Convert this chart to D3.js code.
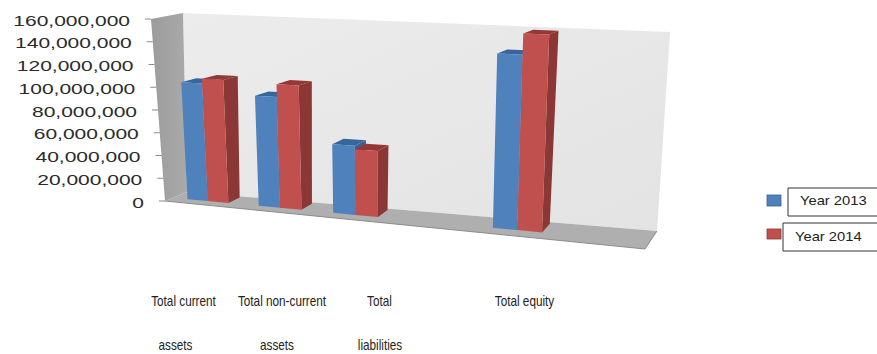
<!DOCTYPE html>
<html>
<head>
<meta charset="utf-8">
<title>Total assets, liabilities and equity</title>
<script src="https://cdn.jsdelivr.net/npm/d3@7/dist/d3.min.js"></script>
<style>
html, body { margin: 0; padding: 0; background: #fff; }
svg { display: block; }
text { font-family: "Liberation Sans", Arial, sans-serif; }
</style>
</head>
<body>
<svg id="chart" width="877" height="354"></svg>
<script>
// Balance sheet figures; the two empty slots leave gaps on the category axis.
const slots = ["Total current assets", "Total non-current assets", "Total liabilities", "gap-a", "Total equity", "gap-b"];
const seriesNames = ["Year 2013", "Year 2014"];
const year2013 = [103000000, 95000000, 58000000, null, 141000000, null];
const year2014 = [107000000, 106000000, 55000000, null, 158000000, null];
const tickValues = [0, 20000000, 40000000, 60000000, 80000000, 100000000, 120000000, 140000000, 160000000];
const labelLines = [["Total current", "assets"], ["Total non-current", "assets"], ["Total", "liabilities"], ["Total equity"]];

// Screen corners of the plot box: f = front, b = back, l/r = left/right, t/d = top/down.
const box = {
  fld: [165, 201], flt: [151, 19], frd: [645, 249], frt: [657, 39],
  bld: [187, 192], blt: [183, 13], brd: [657, 231], brt: [670, 32]
};
const lerp = (a, b, t) => [a[0] + (b[0] - a[0]) * t, a[1] + (b[1] - a[1]) * t];
const perspective = 0.15;

// Maps category position t, height v and depth w (all 0..1) onto the page.
function project(t, v, w) {
  const u = t / (1 + perspective * (1 - t));
  const front = lerp(lerp(box.fld, box.frd, u), lerp(box.flt, box.frt, u), v);
  const back = lerp(lerp(box.bld, box.brd, u), lerp(box.blt, box.brt, u), v);
  return lerp(front, back, w);
}

const valueScale = d3.scaleLinear().domain([0, 160000000]).range([0, 1]);
const slotScale = d3.scaleBand().domain(slots).range([0, 1]).paddingInner(0.42).paddingOuter(0.21);
const seriesScale = d3.scaleBand().domain(seriesNames).range([0, slotScale.bandwidth()]);
const depthFront = 0.36, depthBack = 0.9;

const palette = {
  "Year 2013": { front: "#4f81bd", side: "#3a6191", top: "#38669c" },
  "Year 2014": { front: "#c0504d", side: "#8b3735", top: "#953735" }
};

const svg = d3.select("#chart");
const defs = svg.append("defs");
const wallFill = defs.append("linearGradient").attr("id", "wallFill")
  .attr("x1", 0).attr("y1", 0).attr("x2", 1).attr("y2", 1);
wallFill.append("stop").attr("offset", 0).attr("stop-color", "#ececec");
wallFill.append("stop").attr("offset", 1).attr("stop-color", "#e3e3e3");
const sideFill = defs.append("linearGradient").attr("id", "sideFill")
  .attr("x1", 0).attr("y1", 0).attr("x2", 1).attr("y2", 0);
sideFill.append("stop").attr("offset", 0).attr("stop-color", "#9c9c9c");
sideFill.append("stop").attr("offset", 1).attr("stop-color", "#aaaaaa");

const outline = d3.line().curve(d3.curveLinearClosed);

// Walls and floor
svg.append("path").attr("d", outline([box.blt, box.brt, box.brd, box.bld])).attr("fill", "url(#wallFill)");
svg.append("path").attr("d", outline([box.flt, box.blt, box.bld, box.fld])).attr("fill", "url(#sideFill)");
svg.append("path").attr("d", outline([box.fld, box.bld, box.brd, box.frd])).attr("fill", "#afafaf");
svg.append("path").attr("d", d3.line()([box.fld, box.frd, box.brd])).attr("fill", "none").attr("stroke", "#8c8c8c").attr("stroke-width", 1);

// Value axis
const axis = svg.append("g").attr("class", "value-axis");
tickValues.forEach(value => {
  const p = project(0, valueScale(value), 0);
  axis.append("line")
    .attr("x1", p[0] - 6).attr("x2", p[0]).attr("y1", p[1]).attr("y2", p[1])
    .attr("stroke", "#8a8a8a").attr("stroke-width", 1);
  axis.append("text")
    .attr("transform", `translate(${p[0] - 21},${p[1] + 6.5}) scale(1.5,1)`)
    .attr("text-anchor", "end").attr("font-size", 14).attr("fill", "#2b2b2b")
    .text(d3.format(",")(value));
});

// Bars: each is a box with side, top and front faces, back to front across a pair.
const rows = [year2013, year2014];
const barLayer = svg.append("g").attr("class", "bars");
slots.forEach((slot, i) => {
  seriesNames.forEach((name, s) => {
    const value = rows[s][i];
    if (value === null) return;
    const t0 = slotScale(slot) + seriesScale(name);
    const t1 = t0 + seriesScale.bandwidth();
    const v = valueScale(value);
    const colors = palette[name];
    const g = barLayer.append("g");
    g.append("path").attr("fill", colors.side).attr("d", outline([
      project(t1, 0, depthFront), project(t1, 0, depthBack), project(t1, v, depthBack), project(t1, v, depthFront)
    ]));
    g.append("path").attr("fill", colors.top).attr("d", outline([
      project(t0, v, depthFront), project(t0, v, depthBack), project(t1, v, depthBack), project(t1, v, depthFront)
    ]));
    g.append("path").attr("fill", colors.front).attr("d", outline([
      project(t0, 0, depthFront), project(t1, 0, depthFront), project(t1, v, depthFront), project(t0, v, depthFront)
    ]));
  });
});

// Category captions sit in their own text boxes below the plot.
const labelCenters = [[183.5, 175.5], [282, 277], [379.5, 380], [524.5]];
const labelRows = [301, 345];
const categoryLabels = svg.append("g").attr("class", "category-labels");
labelLines.forEach((lines, i) => {
  lines.forEach((line, r) => {
    categoryLabels.append("text")
      .attr("transform", `translate(${labelCenters[i][r]},${labelRows[r] + 5}) scale(0.84,1)`)
      .attr("text-anchor", "middle").attr("font-size", 14).attr("fill", "#222")
      .text(line);
  });
});

// Legend: swatches with boxed labels running to the page edge.
const legendSwatches = [[767, 195, 14, 11], [767, 229, 14, 10]];
const legendBoxes = [[788, 188, 216], [783, 223, 251]];
const legendTextX = [800, 795];
const legendTextY = [205, 241];
const legend = svg.append("g").attr("class", "legend");
seriesNames.forEach((name, s) => {
  const [x, y, w, h] = legendSwatches[s];
  legend.append("rect").attr("x", x).attr("y", y).attr("width", w).attr("height", h)
    .attr("fill", palette[name].front).attr("stroke", palette[name].side).attr("stroke-width", 0.8);
  const [bx, by0, by1] = legendBoxes[s];
  legend.append("path")
    .attr("d", d3.line()([[877, by0], [bx, by0], [bx, by1], [877, by1]]))
    .attr("fill", "#fff").attr("stroke", "#333").attr("stroke-width", 1);
  legend.append("text")
    .attr("transform", `translate(${legendTextX[s]},${legendTextY[s]}) scale(1.18,1)`)
    .attr("font-size", 12.5).attr("fill", "#222")
    .text(name);
});
</script>
</body>
</html>
